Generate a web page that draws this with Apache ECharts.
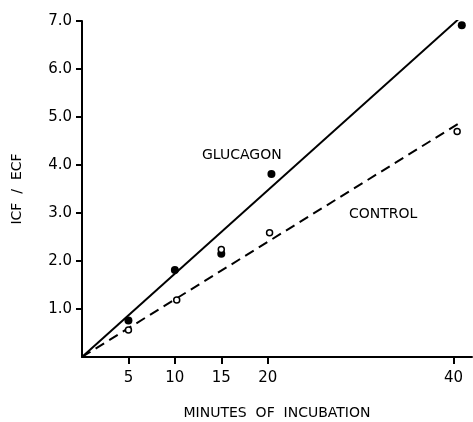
<!DOCTYPE html>
<html>
<head>
<meta charset="utf-8">
<script src="https://cdn.jsdelivr.net/npm/echarts@6/dist/echarts.min.js"></script>
<style>
  html, body { margin: 0; padding: 0; background: #fff; }
  #chart { width: 473px; height: 422px; }
</style>
</head>
<body>
<div id="chart"></div>
<script>
// measured points
const glucagonPts = [[5, 0.76], [10, 1.81], [15, 2.15], [20.4, 3.81], [40.9, 6.91]]
const controlPts = [[5, 0.56], [10.2, 1.19], [15, 2.24], [20.2, 2.59], [40.4, 4.70]]
// fitted lines (from origin)
const glucagonLine = [[0, 0], [40.5, 7.03]]
const controlLine = [[0, 0], [40.7, 4.88]]
// ticks
const xTicks = [5, 10, 15, 20, 40]
const yTicks = [1, 2, 3, 4, 5, 6, 7]

const font = 'DejaVu Sans'
const ink = '#000'

let myChart = echarts.init(document.getElementById('chart'))
let option = {
  animation: false,
  backgroundColor: '#fff',
  grid: { left: 82, right: 1, top: 21, bottom: 65, containLabel: false, outerBoundsMode: 'none' },
  xAxis: {
    type: 'value',
    min: 0,
    max: 42,
    name: 'MINUTES  OF  INCUBATION',
    nameLocation: 'middle',
    nameGap: 49,
    nameTextStyle: { color: ink, fontSize: 14, fontFamily: font },
    splitLine: { show: false },
    axisLine: { lineStyle: { color: ink, width: 2 } },
    axisTick: { customValues: xTicks, length: 7, inside: false, lineStyle: { color: ink, width: 2 } },
    axisLabel: { customValues: xTicks, color: ink, fontSize: 15, fontFamily: font, margin: 14 }
  },
  yAxis: {
    type: 'value',
    min: 0,
    max: 7,
    name: 'ICF  /  ECF',
    nameLocation: 'middle',
    nameGap: 58,
    nameRotate: 90,
    nameTextStyle: { color: ink, fontSize: 14, fontFamily: font },
    splitLine: { show: false },
    axisLine: { lineStyle: { color: ink, width: 2 } },
    axisTick: { customValues: yTicks, length: 6, lineStyle: { color: ink, width: 2 } },
    axisLabel: {
      customValues: yTicks,
      color: ink, fontSize: 15, fontFamily: font, margin: 10,
      formatter: v => v.toFixed(1)
    }
  },
  series: [
    {
      name: 'glucagon line',
      type: 'line',
      data: glucagonLine,
      symbol: 'none',
      lineStyle: { color: ink, width: 2 },
      z: 2
    },
    {
      name: 'control line',
      type: 'line',
      data: controlLine,
      symbol: 'none',
      lineStyle: { color: ink, width: 2, type: [10, 6] },
      z: 2
    },
    {
      name: 'GLUCAGON',
      type: 'scatter',
      data: glucagonPts,
      symbol: 'circle',
      symbolSize: 8,
      itemStyle: { color: ink, opacity: 1 },
      z: 3
    },
    {
      name: 'CONTROL',
      type: 'scatter',
      data: controlPts,
      symbol: 'circle',
      symbolSize: 6,
      itemStyle: { color: '#fff', borderColor: ink, borderWidth: 1.5, opacity: 1 },
      z: 4
    }
  ],
  graphic: [
    { type: 'text', left: 202, top: 148, style: { text: 'GLUCAGON', font: '14px "DejaVu Sans"', fill: ink } },
    { type: 'text', left: 349, top: 207, style: { text: 'CONTROL', font: '14px "DejaVu Sans"', fill: ink } }
  ]
}
myChart.setOption(option, true)
</script>
</body>
</html>
